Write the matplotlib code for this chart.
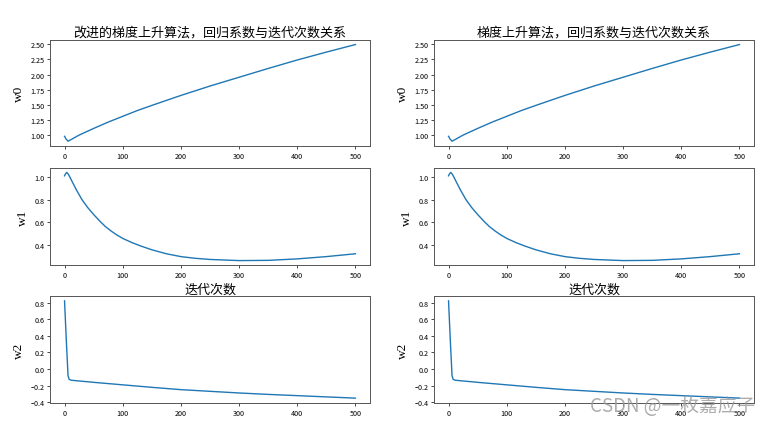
import matplotlib
matplotlib.use('Agg')
import matplotlib.pyplot as plt

plt.rcParams['font.family'] = ['Noto Sans CJK SC', 'DejaVu Sans']

# values (both columns look the same)
w0_x = [0, 3, 6, 10, 25, 50, 75, 100, 125, 150, 200, 250, 300, 350, 400, 450, 500]
w0_y = [0.98, 0.93, 0.90, 0.92, 1.00, 1.11, 1.215, 1.31, 1.405, 1.49, 1.655, 1.81, 1.955,
        2.10, 2.24, 2.37, 2.495]

w1_x = [0, 2, 4, 7, 12, 20, 30, 40, 50, 60, 70, 80, 90, 100, 115, 130, 150, 175, 200,
        225, 250, 300, 350, 400, 450, 500]
w1_y = [1.01, 1.03, 1.04, 1.02, 0.97, 0.89, 0.80, 0.73, 0.67, 0.615, 0.565, 0.525, 0.49,
        0.46, 0.425, 0.395, 0.36, 0.325, 0.30, 0.285, 0.275, 0.265, 0.267, 0.28, 0.30, 0.325]

w2_x = [0, 3, 6, 8, 12, 50, 100, 150, 200, 250, 300, 350, 400, 450, 500]
w2_y = [0.82, 0.35, -0.08, -0.125, -0.135, -0.16, -0.19, -0.22, -0.248, -0.268, -0.288,
        -0.305, -0.32, -0.335, -0.35]

x_ticks = [0, 100, 200, 300, 400, 500]
w0_ticks = [1.00, 1.25, 1.50, 1.75, 2.00, 2.25, 2.50]
w1_ticks = [0.4, 0.6, 0.8, 1.0]
w2_ticks = [-0.4, -0.2, 0.0, 0.2, 0.4, 0.6, 0.8]

titles = ['改进的梯度上升算法，回归系数与迭代次数关系', '梯度上升算法，回归系数与迭代次数关系']
ylabels = ['w0', 'w1', 'w2']
xlabel = '迭代次数'

W, H = 774, 427
fig = plt.figure(figsize=(W / 100, H / 100), dpi=100)

col_left = [50, 434]
col_w = 320
rows = [(40.7, 147), (169, 266), (297, 404)]

series = [(w0_x, w0_y, w0_ticks), (w1_x, w1_y, w1_ticks), (w2_x, w2_y, w2_ticks)]

for c in range(2):
    for r in range(3):
        top, bot = rows[r]
        ax = fig.add_axes([col_left[c] / W, 1 - bot / H, col_w / W, (bot - top) / H])
        xs, ys, yt = series[r]
        ax.plot(xs, ys, color='#1f77b4', lw=1.0)
        ax.tick_params(labelsize=5.2, length=2, width=0.5, pad=2)
        for s in ax.spines.values():
            s.set_linewidth(0.7)
            s.set_color('#555555')
        ax.set_xticks(x_ticks)
        ax.set_yticks(yt)
        ax.set_ylabel(ylabels[r], family='Liberation Serif', fontsize=9.5, labelpad=4)
        if r == 0:
            ax.set_title(titles[c], fontsize=9.4, pad=3)
        if r == 2:
            ax.set_title(xlabel, fontsize=9.4, pad=2)

fig.text(673, 427 - 407, 'CSDN @一枚嘉应子', transform=None, fontsize=13.5,
         color='#999999', alpha=0.8, ha='center', va='center')

fig.savefig('out.png', dpi=100)
